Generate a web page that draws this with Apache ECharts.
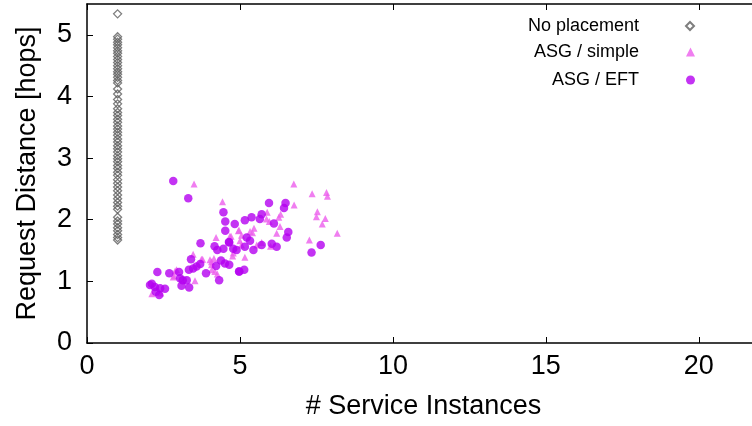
<!DOCTYPE html>
<html>
<head>
<meta charset="utf-8">
<script src="https://cdn.jsdelivr.net/npm/echarts@6/dist/echarts.min.js"></script>
<style>
  html, body { margin: 0; padding: 0; background: #fff; }
  #chart { width: 752px; height: 426px; }
</style>
</head>
<body>
<div id="chart"></div>
<script>
// Request distance without placement: every run uses a single instance
const noPlacementX = 1;
const noPlacementY = [
  5.34, 4.97, 4.93, 4.88, 4.84, 4.79, 4.74, 4.70, 4.65, 4.60, 4.55, 4.50,
  4.45, 4.40, 4.36, 4.31, 4.26, 4.22, 4.12, 4.04, 3.95, 3.88, 3.80, 3.74,
  3.69, 3.63, 3.58, 3.52, 3.47, 3.42, 3.37, 3.31, 3.26, 3.20, 3.15, 3.10,
  3.04, 2.99, 2.94, 2.88, 2.83, 2.77, 2.72, 2.65, 2.59, 2.53, 2.47, 2.40,
  2.34, 2.28, 2.22, 2.17, 2.04, 1.98, 1.93, 1.87, 1.82, 1.76, 1.71, 1.67
];

// ASG / simple: [instances, distance]
const asgSimple = [
  [3.50, 2.58], [4.43, 2.29], [4.22, 1.71], [4.67, 1.73], [4.95, 1.82],
  [3.47, 1.44], [3.78, 1.36], [4.02, 1.35], [4.15, 1.37], [2.93, 1.19],
  [2.82, 1.07], [3.53, 1.01], [2.12, 0.80], [4.08, 1.19], [4.18, 1.16],
  [6.76, 2.58], [7.36, 2.42], [7.83, 2.44], [7.86, 2.38], [6.77, 2.24],
  [7.53, 2.13], [7.50, 2.05], [7.79, 2.02], [7.69, 1.93], [8.18, 1.78],
  [7.27, 1.67], [5.89, 2.12], [6.33, 2.09], [6.27, 2.04], [5.87, 2.01],
  [5.96, 1.97], [6.31, 1.89], [6.20, 1.78], [5.46, 1.86], [5.33, 1.81],
  [5.41, 1.79], [4.97, 1.83], [5.05, 1.75], [4.71, 1.73], [5.00, 1.66],
  [5.05, 1.59], [5.55, 1.59], [5.71, 1.63], [6.00, 1.57], [4.78, 1.46],
  [5.16, 1.39], [4.76, 1.41], [4.07, 1.27], [2.88, 1.17], [2.85, 1.09],
  [2.41, 0.81], [4.07, 1.32], [3.74, 1.36], [4.26, 1.12]
];

// ASG / EFT: [instances, distance]
const asgEft = [
  [2.82, 2.63], [3.31, 2.35], [4.46, 2.12], [4.52, 1.97], [4.83, 1.93],
  [4.52, 1.82], [3.71, 1.62], [4.17, 1.57], [4.26, 1.51], [4.46, 1.53],
  [4.65, 1.63], [4.78, 1.53], [4.89, 1.51], [3.40, 1.36], [4.38, 1.34],
  [4.65, 1.27], [4.22, 1.25], [3.70, 1.28], [3.58, 1.24], [3.47, 1.21],
  [3.33, 1.19], [3.89, 1.13], [4.32, 1.02], [2.30, 1.15], [2.69, 1.13],
  [3.01, 1.15], [3.04, 1.05], [3.13, 1.02], [3.26, 1.02], [3.09, 0.93],
  [3.34, 0.90], [2.12, 0.96], [2.06, 0.94], [2.22, 0.91], [2.39, 0.89],
  [2.55, 0.88], [2.36, 0.78], [2.25, 0.83], [4.97, 1.16], [5.95, 2.27],
  [6.49, 2.27], [6.44, 2.19], [5.16, 1.99], [5.38, 2.04], [5.71, 2.09],
  [5.65, 2.01], [6.11, 1.94], [6.58, 1.80], [6.53, 1.71], [5.22, 1.71],
  [5.33, 1.66], [5.16, 1.56], [5.44, 1.51], [5.71, 1.59], [6.04, 1.61],
  [6.20, 1.56], [4.64, 1.64], [4.51, 1.29], [4.98, 1.16], [5.14, 1.19],
  [7.34, 1.47], [7.64, 1.59]
];

const seriesNames = ['No placement', 'ASG / simple', 'ASG / EFT'];
const xTicks = [0, 5, 10, 15, 20];
const yTicks = [0, 1, 2, 3, 4, 5];

const FONT = 'Liberation Sans, Arial, sans-serif';
const GRAY = '#5e5e5e';
const PINK = '#ec5eec';
const VIOLET = '#b400f0';

const chart = echarts.init(document.getElementById('chart'), null, { renderer: 'canvas' });

function legendFor(name, top, size) {
  return {
    data: [name],
    orient: 'vertical',
    align: 'right',
    right: 57,
    top: top,
    padding: 0,
    itemWidth: size,
    itemHeight: size,
    selectedMode: false,
    textStyle: {
      fontFamily: FONT, fontSize: 18, color: '#000',
      lineHeight: 20, padding: [0, 42, 0, 0]
    }
  };
}

const option = {
  backgroundColor: '#fff',
  animation: false,
  grid: { left: 87, top: 4, width: 673, height: 339, outerBoundsMode: 'none', containLabel: false },
  legend: [
    legendFor(seriesNames[0], 16, 8),
    legendFor(seriesNames[1], 42, 9),
    legendFor(seriesNames[2], 70, 9)
  ],
  xAxis: [{
    type: 'value', min: 0, max: 22, interval: 5,
    name: '# Service Instances', nameLocation: 'middle', nameGap: 50,
    nameTextStyle: { fontFamily: FONT, fontSize: 27, color: '#000' },
    axisLine: { lineStyle: { color: '#000', width: 1.5 } },
    axisTick: { inside: true, length: 6, lineStyle: { color: '#000' } },
    axisLabel: {
      margin: 10, fontFamily: FONT, fontSize: 27, color: '#000',
      formatter: v => (xTicks.indexOf(v) >= 0 ? String(v) : '')
    },
    splitLine: { show: false }
  }, {
    type: 'value', position: 'top', min: 0, max: 22, interval: 5,
    axisLine: { show: true, lineStyle: { color: '#000', width: 1.5 } },
    axisTick: { inside: true, length: 6, lineStyle: { color: '#000' } },
    axisLabel: { show: false },
    splitLine: { show: false }
  }],
  yAxis: {
    type: 'value', min: 0, max: 5.5, interval: 1,
    name: 'Request Distance [hops]', nameLocation: 'middle', nameGap: 46,
    nameTextStyle: { fontFamily: FONT, fontSize: 27, color: '#000' },
    axisLine: { show: true, lineStyle: { color: '#000', width: 1.5 } },
    axisTick: { inside: true, length: 6, lineStyle: { color: '#000' } },
    axisLabel: {
      margin: 15, fontFamily: FONT, fontSize: 27, color: '#000',
      showMaxLabel: false,
      formatter: v => (yTicks.indexOf(v) >= 0 ? String(v) : '')
    },
    splitLine: { show: false }
  },
  series: [{
    name: seriesNames[0], type: 'scatter', symbol: 'diamond', symbolSize: 8,
    itemStyle: { color: 'rgba(255,255,255,0)', borderColor: GRAY, borderWidth: 1.3 },
    data: noPlacementY.map(y => [noPlacementX, y])
  }, {
    name: seriesNames[1], type: 'scatter', symbol: 'triangle', symbolSize: 7,
    itemStyle: { color: PINK },
    data: asgSimple
  }, {
    name: seriesNames[2], type: 'scatter', symbol: 'circle', symbolSize: 8.5,
    itemStyle: { color: VIOLET },
    data: asgEft
  }]
};

chart.setOption(option);
</script>
</body>
</html>
